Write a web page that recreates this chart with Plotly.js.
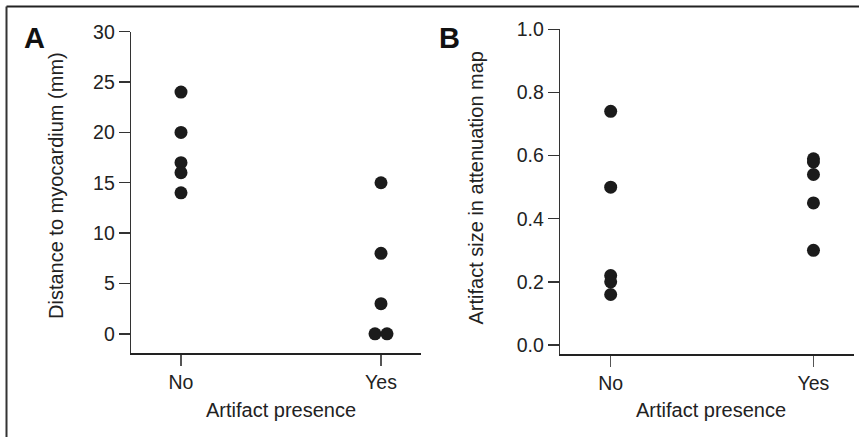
<!DOCTYPE html>
<html>
<head>
<meta charset="utf-8">
<script src="https://cdn.plot.ly/plotly-3.0.1.min.js"></script>
<style>html,body{margin:0;padding:0;background:#fff;}#chart{width:859px;height:437px;}</style>
</head>
<body>
<div id="chart"></div>
<script>
// Category tick labels
const categories = ["No", "Yes"];
const categoryPos = [0, 1];

// Panel A: distance to myocardium (mm)
const distNoX = [0, 0, 0, 0, 0];
const distNoY = [24, 20, 17, 16, 14];
const distYesX = [1, 1, 1, 0.97, 1.03];
const distYesY = [15, 8, 3, 0, 0];

// Panel B: artifact size in attenuation map
const sizeNoX = [0, 0, 0, 0, 0];
const sizeNoY = [0.74, 0.50, 0.22, 0.20, 0.16];
const sizeYesX = [1, 1, 1, 1, 1];
const sizeYesY = [0.59, 0.58, 0.54, 0.45, 0.30];

const FONT = "Liberation Sans, Arial, Helvetica, sans-serif";
const TXT = "#222222";
const marker = {color: "#1b1b1b", size: 13, line: {width: 0}};

const traces = [
  {x: distNoX.concat(distYesX), y: distNoY.concat(distYesY), type: "scatter", mode: "markers",
   marker: marker, xaxis: "x", yaxis: "y", hoverinfo: "y"},
  {x: sizeNoX.concat(sizeYesX), y: sizeNoY.concat(sizeYesY), type: "scatter", mode: "markers",
   marker: marker, xaxis: "x2", yaxis: "y2", hoverinfo: "y"}
];

function xAxis(domain, anchor) {
  return {
    domain: domain, anchor: anchor, range: [-0.25, 1.2],
    tickmode: "array", tickvals: categoryPos, ticktext: categories,
    ticks: "outside", ticklen: 11, tickwidth: 1.5, tickcolor: "#555",
    showline: true, linecolor: "#222", linewidth: 1.6,
    showgrid: false, zeroline: false,
    tickfont: {family: FONT, size: 19.5, color: TXT}
  };
}
function yAxis(domain, anchor, range, dtick, fmt) {
  return {
    domain: domain, anchor: anchor, range: range,
    tick0: 0, dtick: dtick, tickformat: fmt,
    ticks: "outside", ticklen: 11, tickwidth: 1.3, tickcolor: "#333",
    showline: true, linecolor: "#333", linewidth: 1.3,
    showgrid: false, zeroline: false,
    tickfont: {family: FONT, size: 19.5, color: TXT}
  };
}

const layout = {
  width: 859, height: 437,
  margin: {l: 0, r: 0, t: 0, b: 0},
  paper_bgcolor: "#fff", plot_bgcolor: "#fff",
  showlegend: false,
  xaxis: xAxis([0.1525, 0.4901], "y"),
  yaxis: yAxis([0.1922, 0.9275], "x", [-1.9, 30], 5, "d"),
  xaxis2: xAxis([0.6519, 0.9942], "y2"),
  yaxis2: yAxis([0.1899, 0.9330], "x2", [-0.0285, 1.0], 0.2, ".1f"),
  shapes: [
    {type: "line", xref: "paper", yref: "paper", x0: 6.5/859, x1: 1, y0: 1 - 6.5/437, y1: 1 - 6.5/437,
     line: {color: "#222", width: 2}},
    {type: "line", xref: "paper", yref: "paper", x0: 6.5/859, x1: 6.5/859, y0: 0, y1: 1 - 6.5/437,
     line: {color: "#333", width: 2}}
  ],
  annotations: [
    {text: "<b>A</b>", xref: "paper", yref: "paper", x: 22/859, y: 1 - 20/437, xanchor: "left", yanchor: "top",
     showarrow: false, font: {family: FONT, size: 29, color: "#111"}},
    {text: "<b>B</b>", xref: "paper", yref: "paper", x: 437/859, y: 1 - 20/437, xanchor: "left", yanchor: "top",
     showarrow: false, font: {family: FONT, size: 29, color: "#111"}},
    {text: "Distance to myocardium (mm)", xref: "paper", yref: "paper", x: 56/859, y: 1 - 186/437,
     xanchor: "center", yanchor: "middle", textangle: -90, showarrow: false,
     font: {family: FONT, size: 20, color: TXT}},
    {text: "Artifact size in attenuation map", xref: "paper", yref: "paper", x: 475/859, y: 1 - 187.5/437,
     xanchor: "center", yanchor: "middle", textangle: -90, showarrow: false,
     font: {family: FONT, size: 20, color: TXT}},
    {text: "Artifact presence", xref: "paper", yref: "paper", x: 280.5/859, y: 1 - 410/437,
     xanchor: "center", yanchor: "middle", showarrow: false,
     font: {family: FONT, size: 20, color: TXT}},
    {text: "Artifact presence", xref: "paper", yref: "paper", x: 711/859, y: 1 - 410/437,
     xanchor: "center", yanchor: "middle", showarrow: false,
     font: {family: FONT, size: 20, color: TXT}}
  ]
};

Plotly.newPlot("chart", traces, layout, {staticPlot: true, displayModeBar: false});
</script>
</body>
</html>
